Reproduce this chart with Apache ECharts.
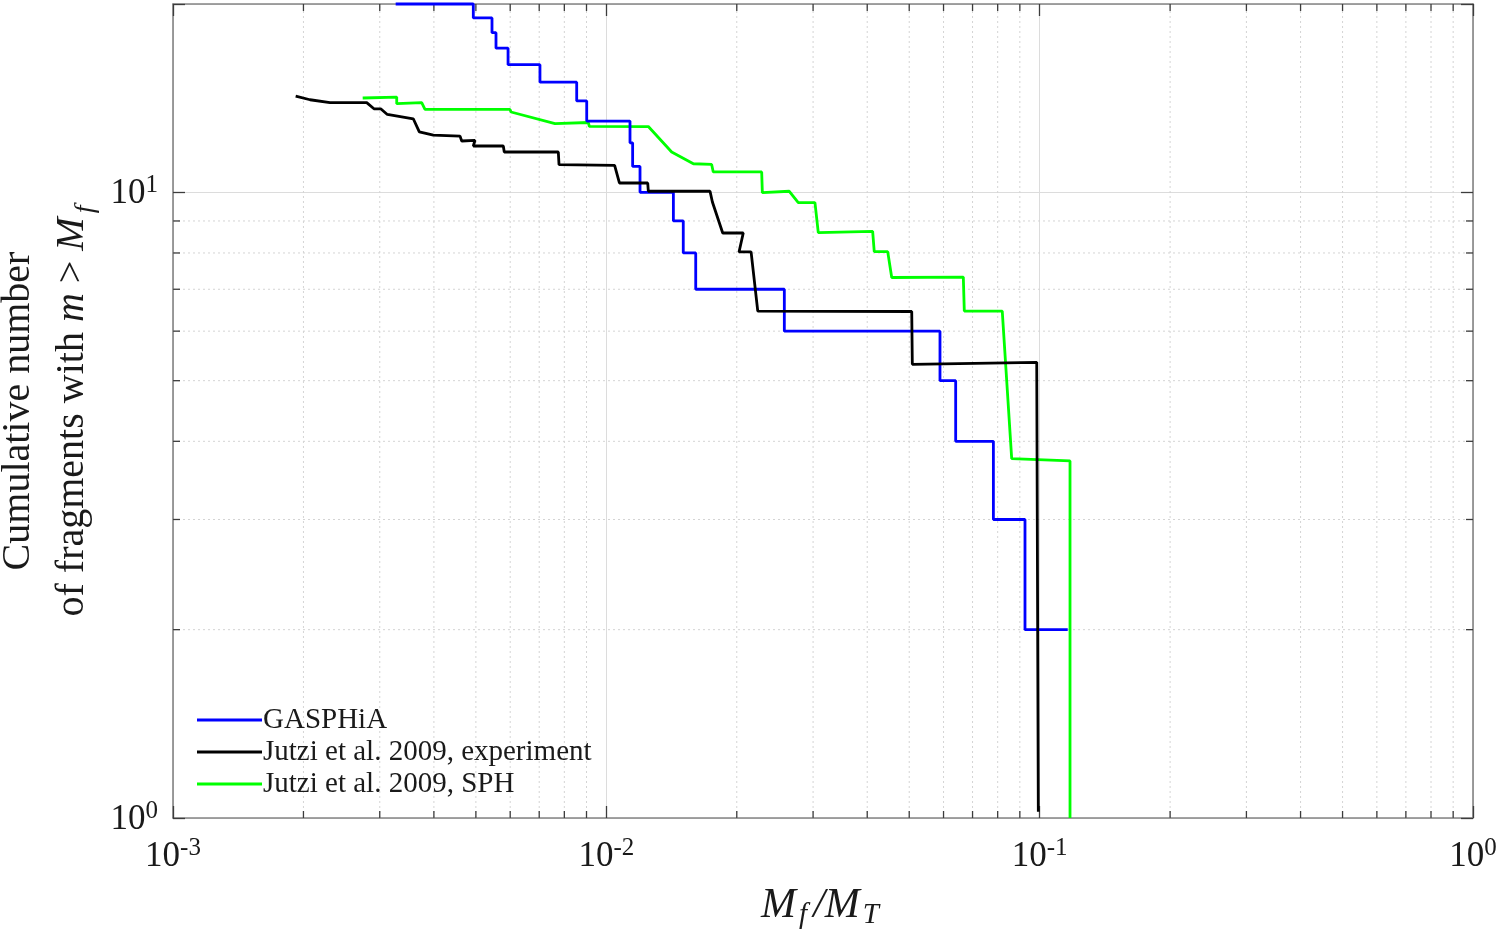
<!DOCTYPE html>
<html>
<head>
<meta charset="utf-8">
<script src="https://cdn.jsdelivr.net/npm/echarts@6/dist/echarts.min.js"></script>
<style>
html,body{margin:0;padding:0;background:#fff;}
#chart{width:1501px;height:937px;}
</style>
</head>
<body>
<div id="chart"></div>
<script>
// ---- data ----
const seriesNames = ['GASPHiA', 'Jutzi et al. 2009, experiment', 'Jutzi et al. 2009, SPH'];

// GASPHiA (step function: level N holds from blueX[i] to blueX[i+1])
const blueX = [0.003265, 0.004932, 0.005447, 0.005564, 0.005932, 0.007028, 0.008543, 0.009010, 0.01134, 0.0115, 0.01196, 0.01428, 0.01505, 0.01608, 0.02575, 0.05888, 0.0640, 0.0782, 0.0925, 0.1161];
const blueN = [20, 19, 18, 17, 16, 15, 14, 13, 12, 11, 10, 9, 8, 7, 6, 5, 4, 3, 2, 2];

// Jutzi et al. 2009, experiment (digitised polyline)
const blackX = [0.001919, 0.002071, 0.002303, 0.002799, 0.002909, 0.003015, 0.003123, 0.003585, 0.003702, 0.003988, 0.004596, 0.004637, 0.004976, 0.004932, 0.005784, 0.005814, 0.007748, 0.007777, 0.01045, 0.01072, 0.01246, 0.0125, 0.01735, 0.01757, 0.01856, 0.0207, 0.02024, 0.02158, 0.02236, 0.05067, 0.05083, 0.09845, 0.09929];
const blackN = [14.25, 14.06, 13.91, 13.91, 13.60, 13.60, 13.32, 13.11, 12.49, 12.34, 12.30, 12.08, 12.11, 11.86, 11.86, 11.60, 11.60, 11.07, 11.04, 10.35, 10.35, 10.04, 10.04, 9.65, 8.61, 8.61, 8.03, 8.03, 6.46, 6.45, 5.31, 5.35, 1.023];

// Jutzi et al. 2009, SPH (digitised polyline)
const greenX = [0.002740, 0.003283, 0.003283, 0.003749, 0.003815, 0.005994, 0.006026, 0.007613, 0.009088, 0.009135, 0.0125, 0.01415, 0.01588, 0.0175, 0.01765, 0.02283, 0.02291, 0.02644, 0.02773, 0.0303, 0.03084, 0.04117, 0.04152, 0.0446, 0.04556, 0.06665, 0.067, 0.08197, 0.08619, 0.1175, 0.1175];
const greenN = [14.15, 14.20, 13.86, 13.91, 13.57, 13.57, 13.44, 12.88, 12.93, 12.75, 12.74, 11.60, 11.11, 11.08, 10.78, 10.78, 9.99, 10.04, 9.63, 9.63, 8.62, 8.66, 8.04, 8.04, 7.31, 7.32, 6.46, 6.46, 3.754, 3.722, 1.0];

// axis ranges and minor (log) tick positions
const xRange = [0.001, 1];
const yRange = [1, 20];
const xMinorTicks = [0.002,0.003,0.004,0.005,0.006,0.007,0.008,0.009, 0.02,0.03,0.04,0.05,0.06,0.07,0.08,0.09, 0.2,0.3,0.4,0.5,0.6,0.7,0.8,0.9];
const yMinorTicks = [2,3,4,5,6,7,8,9];

// ---- chart ----
const SERIF = "'Liberation Serif','Times New Roman',serif";
const TXT = '#1a1a1a';
const AXIS = '#858585';
const TICK = '#3c3c3c';
const zip = (xs, ys) => xs.map((x, i) => [x, ys[i]]);

function powLabel(v) {
  const e = Math.log10(v);
  if (Math.abs(e - Math.round(e)) > 1e-6) return '';
  return '{b|10}{s|' + Math.round(e) + '}';
}
const labelRich = {
  b: {fontFamily: SERIF, fontSize: 35, color: TXT, lineHeight: 38, verticalAlign: 'bottom'},
  s: {fontFamily: SERIF, fontSize: 25, color: TXT, lineHeight: 38, verticalAlign: 'top', padding: [0,0,8,0]}
};

const chart = echarts.init(document.getElementById('chart'), null, {renderer: 'canvas'});

const minorStyle = {stroke: '#d4d4d4', lineWidth: 1, lineDash: [2, 3]};
const tickStyle = {stroke: TICK, lineWidth: 1.3};

const option = {
  backgroundColor: '#fff',
  animation: false,
  grid: {left: 173, right: 28, top: 4, bottom: 119, outerBoundsMode: 'none', containLabel: false},
  legend: {
    data: seriesNames,
    orient: 'vertical',
    left: 197, top: 705,
    icon: 'rect',
    itemWidth: 65, itemHeight: 3, itemGap: 2,
    padding: 0,
    textStyle: {fontFamily: SERIF, fontSize: 29, color: TXT, lineHeight: 30, padding: [0,0,0,-4]}
  },
  xAxis: [{
    type: 'log', logBase: 10, min: xRange[0], max: xRange[1],
    position: 'bottom',
    axisLine: {show: true, onZero: false, lineStyle: {color: AXIS, width: 1.6}},
    axisTick: {show: true, inside: true, length: 12, lineStyle: {color: TICK, width: 1.3}},
    minorTick: {show: false},
    splitLine: {show: true, lineStyle: {color: '#dcdcdc', width: 1}},
    axisLabel: {margin: 18, formatter: powLabel, rich: labelRich},
    name: '{i|M}{sub|f}{i|/M}{sub|T}',
    nameLocation: 'middle', nameGap: 64,
    nameTextStyle: {
      rich: {
        i: {fontFamily: SERIF, fontStyle: 'italic', fontSize: 42, color: TXT, lineHeight: 48, verticalAlign: 'middle'},
        sub: {fontFamily: SERIF, fontStyle: 'italic', fontSize: 29, color: TXT, lineHeight: 24, verticalAlign: 'bottom', padding: [0, 6, 0, 3]}
      }
    }
  }, {
    type: 'log', logBase: 10, min: xRange[0], max: xRange[1],
    position: 'top',
    axisLine: {show: true, onZero: false, lineStyle: {color: AXIS, width: 1.6}},
    axisTick: {show: true, inside: true, length: 12, lineStyle: {color: TICK, width: 1.3}},
    axisLabel: {show: false}, splitLine: {show: false}
  }],
  yAxis: [{
    type: 'log', logBase: 10, min: yRange[0], max: yRange[1],
    position: 'left',
    axisLine: {show: true, onZero: false, lineStyle: {color: AXIS, width: 1.6}},
    axisTick: {show: true, inside: true, length: 12, lineStyle: {color: TICK, width: 1.3}},
    minorTick: {show: false},
    splitLine: {show: true, lineStyle: {color: '#dcdcdc', width: 1}},
    axisLabel: {margin: 15, formatter: powLabel, rich: labelRich},
    name: '{n|Cumulative number}\n{n|of fragments with }{i|m}{n| > }{i|M}{sub|f}',
    nameLocation: 'middle', nameGap: 64, nameRotate: 90,
    nameTextStyle: {
      rich: {
        n: {fontFamily: SERIF, fontSize: 40, color: TXT, lineHeight: 54, verticalAlign: 'middle'},
        i: {fontFamily: SERIF, fontStyle: 'italic', fontSize: 40, color: TXT, lineHeight: 54, verticalAlign: 'middle'},
        sub: {fontFamily: SERIF, fontStyle: 'italic', fontSize: 28, color: TXT, lineHeight: 30, verticalAlign: 'bottom', padding: [0, 0, 0, 4]}
      }
    }
  }, {
    type: 'log', logBase: 10, min: yRange[0], max: yRange[1],
    position: 'right',
    axisLine: {show: true, onZero: false, lineStyle: {color: AXIS, width: 1.6}},
    axisTick: {show: true, inside: true, length: 12, lineStyle: {color: TICK, width: 1.3}},
    axisLabel: {show: false}, splitLine: {show: false}
  }],
  series: [
    {
      type: 'custom', name: 'xminor', silent: true, z: 1,
      xAxisIndex: 0, yAxisIndex: 0, clip: false,
      data: xMinorTicks.map(v => [v, yRange[0]]),
      renderItem: function (params, api) {
        const b = api.coord([api.value(0), yRange[0]]);
        const t = api.coord([api.value(0), yRange[1]]);
        return {type: 'group', children: [
          {type: 'line', shape: {x1: b[0], y1: b[1], x2: t[0], y2: t[1]}, style: minorStyle},
          {type: 'line', shape: {x1: b[0], y1: b[1], x2: b[0], y2: b[1] - 7}, style: tickStyle},
          {type: 'line', shape: {x1: t[0], y1: t[1], x2: t[0], y2: t[1] + 7}, style: tickStyle}
        ]};
      }
    },
    {
      type: 'custom', name: 'yminor', silent: true, z: 1,
      xAxisIndex: 0, yAxisIndex: 0, clip: false,
      data: yMinorTicks.map(v => [xRange[0], v]),
      renderItem: function (params, api) {
        const l = api.coord([xRange[0], api.value(1)]);
        const r = api.coord([xRange[1], api.value(1)]);
        return {type: 'group', children: [
          {type: 'line', shape: {x1: l[0], y1: l[1], x2: r[0], y2: r[1]}, style: minorStyle},
          {type: 'line', shape: {x1: l[0], y1: l[1], x2: l[0] + 7, y2: l[1]}, style: tickStyle},
          {type: 'line', shape: {x1: r[0], y1: r[1], x2: r[0] - 7, y2: r[1]}, style: tickStyle}
        ]};
      }
    },
    {
      name: seriesNames[0], type: 'line', step: 'end',
      data: zip(blueX, blueN), showSymbol: false, symbol: 'none', clip: false, z: 3,
      lineStyle: {color: '#0000ff', width: 2.8}, itemStyle: {color: '#0000ff'}
    },
    {
      name: seriesNames[1], type: 'line',
      data: zip(blackX, blackN), showSymbol: false, symbol: 'none', clip: false, z: 4,
      lineStyle: {color: '#000000', width: 2.8}, itemStyle: {color: '#000000'}
    },
    {
      name: seriesNames[2], type: 'line',
      data: zip(greenX, greenN), showSymbol: false, symbol: 'none', clip: false, z: 2,
      lineStyle: {color: '#00ff00', width: 2.8}, itemStyle: {color: '#00ff00'}
    }
  ]
};
chart.setOption(option);
</script>
</body>
</html>
